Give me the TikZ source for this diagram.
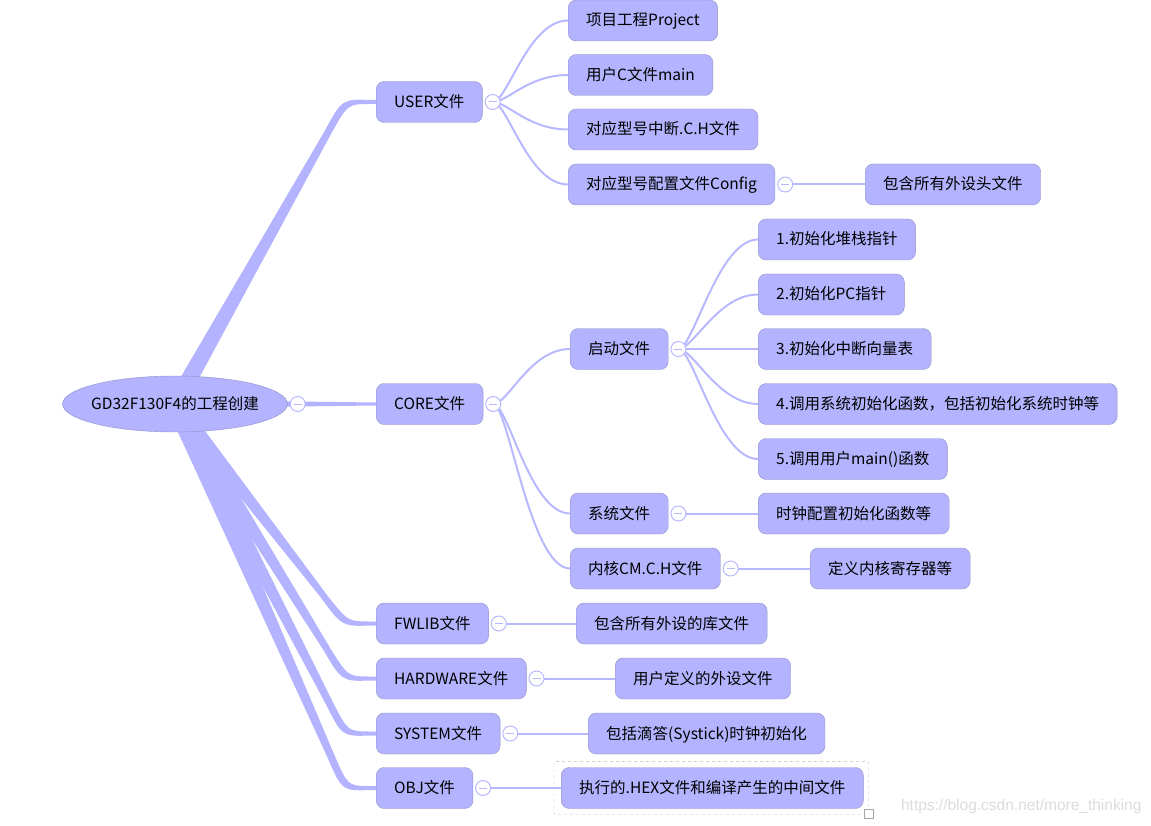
\documentclass[tikz,border=0pt]{standalone}
\usepackage{fontspec}
\setmainfont{Noto Sans CJK SC}
\newfontfamily\markfont{Liberation Sans}
\usetikzlibrary{calc,shapes.geometric,backgrounds}
\definecolor{boxblue}{HTML}{B3B3FF}
\definecolor{boxedge}{HTML}{9191C8}
\definecolor{wireblue}{HTML}{B8B8FF}

\begin{document}
\begin{tikzpicture}[x=1pt,y=-1pt,font=\fontsize{15.5}{18}\selectfont]
    \tikzstyle{mbox}=[draw=boxedge,fill=boxblue,rounded corners=8pt,inner xsep=18pt,minimum height=41pt,text height=11pt,text depth=0pt,anchor=west]
    \tikzstyle{mroot}=[ellipse,draw=boxedge,fill=boxblue,inner xsep=-5pt,minimum width=225pt,minimum height=56pt,text height=11pt,text depth=0pt]
    \tikzstyle{mwire}=[draw=wireblue,line width=2pt]
    \tikzstyle{mbranch}=[fill=boxblue]
    \tikzstyle{mfold}=[circle,draw=wireblue,fill=white,line width=1pt,minimum size=15pt,inner sep=0pt,
        path picture={\draw[wireblue,line width=1pt] ($(path picture bounding box.center)+(-4,0)$) -- ($(path picture bounding box.center)+(4,0)$);}]

    \useasboundingbox (0,0) rectangle (1151,826);

    \node[mroot] (root) at (175,404) {GD32F130F4的工程创建};

    \node[mbox] (user) at (376,102) {USER文件};
    \node[mbox] (core) at (376,404) {CORE文件};
    \node[mbox] (fwlib) at (376,623.5) {FWLIB文件};
    \node[mbox] (hardware) at (376,678.5) {HARDWARE文件};
    \node[mbox] (system) at (376,733.5) {SYSTEM文件};
    \node[mbox] (obj) at (376,788) {OBJ文件};

    \node[mbox] (project) at (568,20.5) {项目工程Project};
    \node[mbox] (mainc) at (568,75) {用户C文件main};
    \node[mbox] (irq) at (568,129.5) {对应型号中断.C.H文件};
    \node[mbox] (config) at (568,184.5) {对应型号配置文件Config};
    \node[mbox] (periph) at (865,184.5) {包含所有外设头文件};

    \node[mbox] (startup) at (570,349) {启动文件};
    \node[mbox] (sysfile) at (570,513.5) {系统文件};
    \node[mbox] (cmfile) at (570,568.5) {内核CM.C.H文件};

    \node[mbox] (step1) at (758,239.5) {1.初始化堆栈指针};
    \node[mbox] (step2) at (758,294.5) {2.初始化PC指针};
    \node[mbox] (step3) at (758,349) {3.初始化中断向量表};
    \node[mbox] (step4) at (758,404) {4.调用系统初始化函数，包括初始化系统时钟等};
    \node[mbox] (step5) at (758,459) {5.调用用户main()函数};
    \node[mbox] (clock) at (758,513.5) {时钟配置初始化函数等};
    \node[mbox] (coreg) at (810,568.5) {定义内核寄存器等};

    \node[mbox] (libs) at (576,623.5) {包含所有外设的库文件};
    \node[mbox] (userdev) at (615,678.5) {用户定义的外设文件};
    \node[mbox] (systick) at (588,733.5) {包括滴答(Systick)时钟初始化};
    \node[mbox] (hexfile) at (561,788) {执行的.HEX文件和编译产生的中间文件};

    \draw[dashed,gray!55,rounded corners=2pt] ($(hexfile.north west)+(-7,-6)$) rectangle ($(hexfile.south east)+(5,6)$);
    \node[draw=gray!70,fill=white,minimum size=9pt,inner sep=0pt] (grip) at ($(hexfile.south east)+(5,5)$) {};

    \node[mfold] (root-f) at ($(root.east)+(10,0)$) {};
    \foreach \n in {user,core,fwlib,hardware,system,obj,config,startup,sysfile,cmfile}
        \node[mfold] (\n-f) at ($(\n.east)+(10,0)$) {};

    \node[font=\markfont\fontsize{15.5}{18}\selectfont,text=gray!28,anchor=east] (mark) at (1145,806) {https://blog.csdn.net/more\_thinking};

    \begin{scope}[on background layer]
        \foreach \t/\s in {user/-1,fwlib/1,hardware/1,system/1,obj/1}{
            \coordinate (k) at ($(\t.west)+(-31,0)$);
            \coordinate (p) at ($(k)!34pt!(root.center)$);
            \coordinate (q) at ($(k)+(26,0)$);
            \fill[mbranch] ($(root.center)+(-10,0)$) -- ($(p)+(-4,0)$) .. controls ($(k)+(-3,3*\s)$) .. ($(q)+(0,2*\s)$) -- ($(\t.west)+(0,2*\s)$)
                -- ($(\t.west)+(0,-2*\s)$) -- ($(q)+(0,-2*\s)$) .. controls ($(k)+(3,-2*\s)$) .. ($(p)+(4,0)$) -- ($(root.center)+(10,0)$) -- cycle;
        }
        \fill[mbranch] ($(root.center)+(0,-4)$) -- ($(core.west)+(0,-1.5)$) -- ($(core.west)+(0,1.5)$) -- ($(root.center)+(0,4)$) -- cycle;

        \foreach \a/\b in {user-f/project,user-f/mainc,user-f/irq,user-f/config,core-f/startup,core-f/sysfile,core-f/cmfile,
            startup-f/step1,startup-f/step2,startup-f/step3,startup-f/step4,startup-f/step5}
            \draw[mwire] (\a.center) .. controls +(15,0) and +(-40,0) .. (\b.west);
        \foreach \a/\b in {config-f/periph,sysfile-f/clock,cmfile-f/coreg,fwlib-f/libs,hardware-f/userdev,system-f/systick,obj-f/hexfile}
            \draw[mwire] (\a.center) -- (\b.west);
    \end{scope}
\end{tikzpicture}
\end{document}
